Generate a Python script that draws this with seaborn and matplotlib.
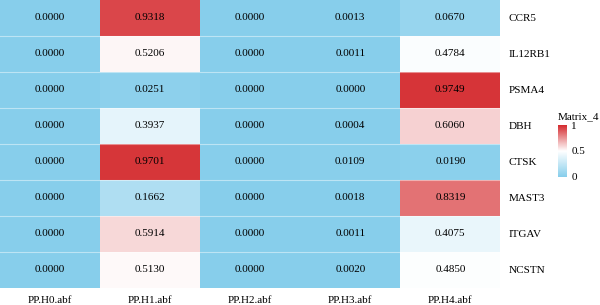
import numpy as np
import pandas as pd
import seaborn as sns
import matplotlib.pyplot as plt
from matplotlib.colors import LinearSegmentedColormap

genes = ['CCR5', 'IL12RB1', 'PSMA4', 'DBH', 'CTSK', 'MAST3', 'ITGAV', 'NCSTN']
hipoteses = ['PP.H0.abf', 'PP.H1.abf', 'PP.H2.abf', 'PP.H3.abf', 'PP.H4.abf']

h0 = [0.0000, 0.0000, 0.0000, 0.0000, 0.0000, 0.0000, 0.0000, 0.0000]
h1 = [0.9318, 0.5206, 0.0251, 0.3937, 0.9701, 0.1662, 0.5914, 0.5130]
h2 = [0.0000, 0.0000, 0.0000, 0.0000, 0.0000, 0.0000, 0.0000, 0.0000]
h3 = [0.0013, 0.0011, 0.0000, 0.0004, 0.0109, 0.0018, 0.0011, 0.0020]
h4 = [0.0670, 0.4784, 0.9749, 0.6060, 0.0190, 0.8319, 0.4075, 0.4850]

df = pd.DataFrame({'PP.H0.abf': h0, 'PP.H1.abf': h1, 'PP.H2.abf': h2,
                   'PP.H3.abf': h3, 'PP.H4.abf': h4}, index=genes)[hipoteses]

plt.rcParams['font.family'] = ['Liberation Serif', 'DejaVu Serif']

cmap = LinearSegmentedColormap.from_list('azul_vermelho', ['#87CEEB', '#FFFFFF', '#D42A2E'])

fig = plt.figure(figsize=(6, 3.05), dpi=100)
ax = fig.add_axes([0.0, 0.056, 0.834, 0.944])
cax = fig.add_axes([0.930, 0.420, 0.015, 0.170])

sns.heatmap(df, ax=ax, cbar_ax=cax, cmap=cmap, vmin=0, vmax=1,
            annot=True, fmt='.4f', annot_kws={'fontsize': 8, 'color': 'black'})

# linhas finas entre as linhas (só horizontais)
for i in range(1, len(genes)):
    ax.axhline(i, color='white', lw=0.8, alpha=0.45)

# rótulos dos genes à direita
ax.yaxis.tick_right()
ax.set_yticklabels(genes, rotation=0, fontsize=8)
ax.set_xticklabels(hipoteses, rotation=0, fontsize=8)
ax.tick_params(length=0, pad=6)
ax.set_xlabel('')
ax.set_ylabel('')

cax.set_yticks([0, 0.5, 1])
cax.set_yticklabels(['0', '0.5', '1'])
cax.tick_params(length=0, labelsize=8, pad=3)
cax.set_title('Matrix_4', fontsize=8, loc='left', pad=4)
for s in cax.spines.values():
    s.set_visible(False)

plt.savefig('out.png', dpi=100)
